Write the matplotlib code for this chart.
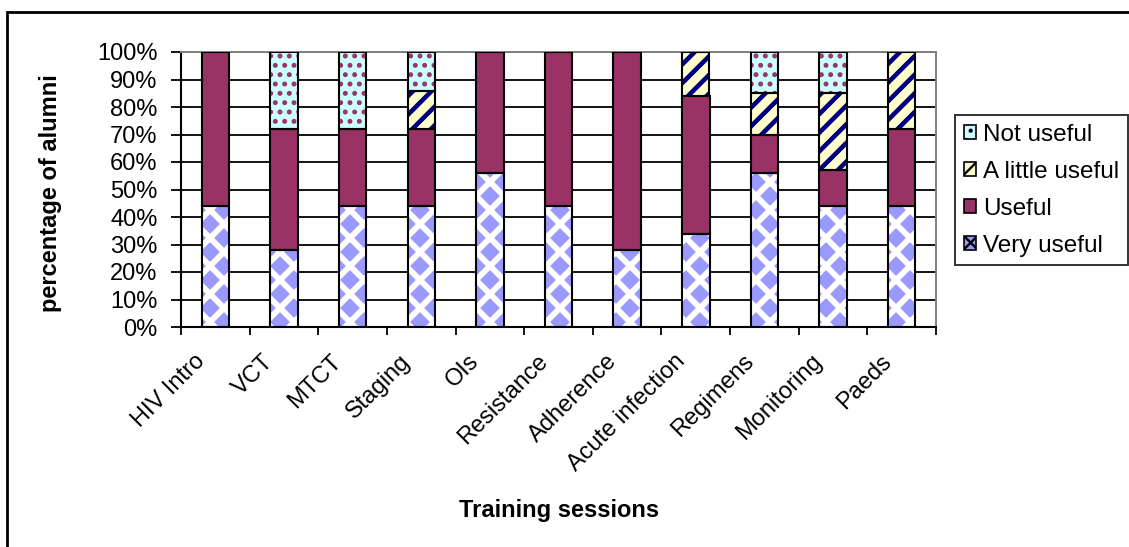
import numpy as np
import matplotlib
matplotlib.use("Agg")
import matplotlib.pyplot as plt
import matplotlib.transforms as mtransforms
from matplotlib.patches import Patch, Rectangle
from matplotlib.ticker import FixedLocator, PercentFormatter

plt.rcParams['font.family'] = ['Liberation Sans', 'DejaVu Sans']

# percentage of alumni per rating, for each training session
sessions = ["HIV Intro", "VCT", "MTCT", "Staging", "OIs", "Resistance",
            "Adherence", "Acute infection", "Regimens", "Monitoring", "Paeds"]
very_useful = [44, 28, 44, 44, 56, 44, 28, 34, 56, 44, 44]
useful = [56, 44, 28, 28, 44, 56, 72, 50, 14, 13, 28]
little_useful = [0, 0, 0, 14, 0, 0, 0, 16, 15, 28, 28]
not_useful = [0, 28, 28, 14, 0, 0, 0, 0, 15, 15, 0]
ratings = ["Very useful", "Useful", "A little useful", "Not useful"]

# hatch spacing follows the dpi, so render at 168 dpi for a finer pattern;
# sizes below are written for 100 dpi and scaled by S
DPI = 168
S = 100 / DPI
W, H = 1129, 547

# fill, hatch, hatch colour, hatch line width
styles = [
    dict(face="#9999FF", hatch="xx", hc="white", hlw=4.2),
    dict(face="#993366", hatch=None, hc="#993366", hlw=1.0),
    dict(face="#FFFFCC", hatch="///", hc="#000080", hlw=3.3),
    dict(face="#CCFFFF", hatch="...", hc="#993366", hlw=2.2),
]

fig = plt.figure(figsize=(W / DPI, H / DPI), dpi=DPI)
ax = fig.add_axes([181 / W, 1 - 327 / H, (936 - 181) / W, (327 - 52) / H])

x = np.arange(len(sessions))
bottom = np.zeros(len(sessions))
handles = []
for vals, st, name in zip([very_useful, useful, little_useful, not_useful], styles, ratings):
    vals = np.array(vals, dtype=float)
    keep = vals > 0
    with plt.rc_context({'hatch.linewidth': st['hlw'] * S, 'hatch.color': st['hc']}):
        ax.bar(x[keep], vals[keep], 0.4, bottom=bottom[keep], facecolor=st['face'],
               hatch=st['hatch'], edgecolor=st['hc'], linewidth=0, zorder=2)
    with plt.rc_context({'hatch.linewidth': 1.2 * S}):
        handles.append(Patch(facecolor=st['face'], hatch=st['hatch'] and st['hatch'][0] * 3,
                             edgecolor='black', linewidth=1.2 * S, label=name))
    ax.bar(x[keep], vals[keep], 0.4, bottom=bottom[keep], facecolor='none',
           edgecolor='black', linewidth=1.5 * S, zorder=3)
    bottom += vals

ax.set_xlim(-0.5, len(sessions) - 0.5)
ax.set_ylim(0, 100)
ax.yaxis.set_major_locator(FixedLocator(np.arange(0, 101, 10)))
ax.yaxis.set_major_formatter(PercentFormatter(decimals=0))
ax.yaxis.grid(True, color='black', linewidth=1.3 * S, zorder=0)
ax.set_axisbelow(True)

ax.set_xticks(np.arange(len(sessions) + 1) - 0.5)
ax.set_xticklabels([])
ax.tick_params(axis='x', length=6 * S, width=1.3 * S, color='black')
ax.tick_params(axis='y', length=7 * S, width=1.3 * S, labelsize=17 * S, pad=10 * S)

for s in ['top', 'right']:
    ax.spines[s].set_color('#808080')
    ax.spines[s].set_linewidth(1.4 * S)
for s in ['left', 'bottom']:
    ax.spines[s].set_color('black')
    ax.spines[s].set_linewidth(1.5 * S)

# session names, rotated under each bar (offset given in pixels)
shift = mtransforms.ScaledTranslation(-14 / DPI, -31 / DPI, fig.dpi_scale_trans)
for i, name in enumerate(sessions):
    ax.text(i, 0, name, rotation=45, rotation_mode='anchor', ha='right', va='center',
            fontsize=17 * S, transform=ax.get_xaxis_transform() + shift)

fig.text(559 / W, 1 - 511 / H, "Training sessions", ha='center', va='center',
         fontsize=17 * S, fontweight='bold')
fig.text(51 / W, 1 - 193 / H, "percentage of alumni", ha='center', va='center',
         rotation=90, fontsize=17 * S, fontweight='bold')

leg = fig.legend(handles=handles[::-1], loc='upper left',
                 bbox_to_anchor=(955 / W, 1 - 115 / H), fontsize=17.5 * S,
                 frameon=True, fancybox=False, shadow=False, borderpad=0.35,
                 handlelength=0.5, handleheight=0.5, handletextpad=0.3,
                 labelspacing=0.62, borderaxespad=0)
leg.get_frame().set_edgecolor('black')
leg.get_frame().set_linewidth(1.4 * S)

# outer chart frame
fig.patches.append(Rectangle((7 / W, -0.05), 1.1, 1 - 12 / H + 0.05, transform=fig.transFigure,
                             facecolor='none', edgecolor='black', linewidth=2.0 * S, zorder=0))

fig.savefig("out.png", dpi=DPI)
